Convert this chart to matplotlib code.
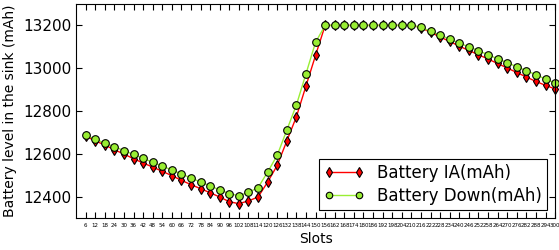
import matplotlib
matplotlib.use('Agg')
import matplotlib.pyplot as plt
import numpy as np

# Slots 6..300
slots = list(range(6, 301, 6))

battery_ia = [
    12682, 12661, 12641, 12619, 12599, 12577, 12557, 12538, 12518, 12498,
    12476, 12456, 12437, 12418, 12398, 12376, 12367, 12380, 12398, 12468,
    12546, 12660, 12773, 12917, 13060, 13200, 13200, 13200, 13200, 13200,
    13200, 13200, 13200, 13200, 13200, 13190, 13167, 13146, 13125, 13103,
    13083, 13063, 13043, 13022, 13001, 12980, 12959, 12938, 12920, 12903,
]
battery_down = [
    12686, 12669, 12650, 12633, 12615, 12597, 12579, 12560, 12543, 12524,
    12506, 12487, 12468, 12450, 12431, 12414, 12404, 12420, 12442, 12515,
    12593, 12711, 12828, 12974, 13121, 13200, 13200, 13200, 13200, 13200,
    13200, 13200, 13200, 13200, 13200, 13192, 13172, 13155, 13136, 13117,
    13100, 13082, 13063, 13044, 13026, 13007, 12988, 12970, 12949, 12931,
]
y_ticks = [12400, 12600, 12800, 13000, 13200]

fig = plt.figure(figsize=(5.59, 2.5), dpi=100)
ax = fig.add_axes([0.136, 0.128, 0.857, 0.856])

ax.plot(slots, battery_ia, color='red', linewidth=1.0, marker='d',
        markersize=5.5, markerfacecolor='red', markeredgecolor='black',
        markeredgewidth=0.8, label='Battery IA(mAh)', clip_on=False)
ax.plot(slots, battery_down, color='#99ee33', linewidth=1.0, marker='o',
        markersize=5.5, markerfacecolor='#99ee33', markeredgecolor='black',
        markeredgewidth=0.8, label='Battery Down(mAh)', clip_on=False)

ax.set_xlim(0, 300)
ax.set_ylim(12300, 13300)
ax.set_xticks(slots)
ax.set_xticklabels([str(s) for s in slots], fontsize=4)
ax.set_yticks(y_ticks)
ax.tick_params(axis='y', labelsize=11)
ax.tick_params(direction='in', top=True, right=True, length=4, width=0.8)

ax.set_xlabel('Slots', fontsize=10, labelpad=3)
ax.set_ylabel('Battery level in the sink (mAh)', fontsize=10)

leg = ax.legend(loc='lower right', fontsize=12, numpoints=2, fancybox=False,
                edgecolor='black', framealpha=1, borderpad=0.3,
                handlelength=2.4, labelspacing=0.3, borderaxespad=0.5,
                markerscale=0.85)
leg.get_frame().set_linewidth(0.8)

fig.savefig('out.png', dpi=100)
